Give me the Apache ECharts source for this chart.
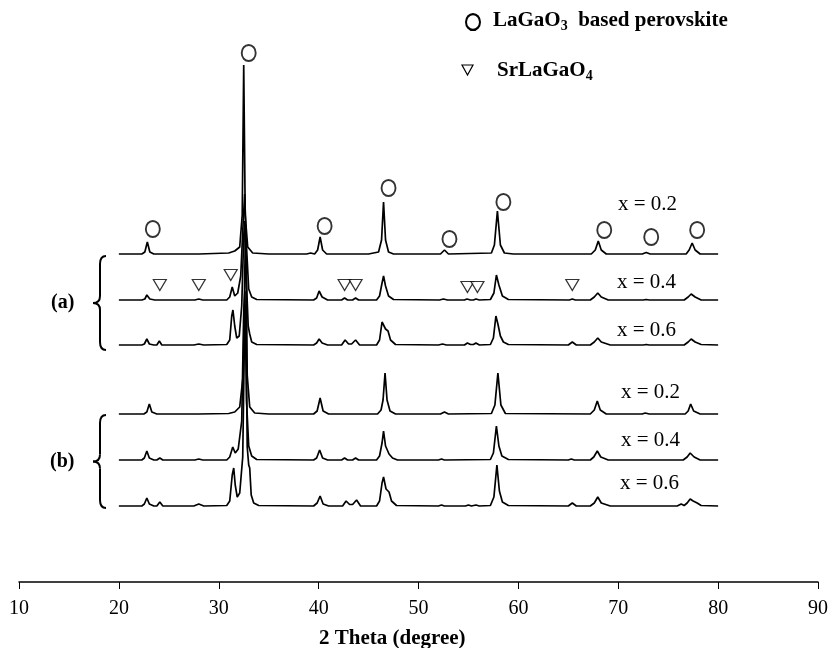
<!DOCTYPE html>
<html>
<head>
<meta charset="utf-8">
<title>XRD patterns</title>
<script src="https://cdn.jsdelivr.net/npm/echarts@6/dist/echarts.min.js"></script>
<style>
  html, body { margin: 0; padding: 0; background: #fff; }
  #chart { width: 831px; height: 648px; }
</style>
</head>
<body>
<div id="chart"></div>
<script>
// 2 theta axis
const angleMin = 10
const angleMax = 90
const angleStep = 10

// sample labels, top to bottom
const traceNames = ['a x=0.2', 'a x=0.4', 'a x=0.6', 'b x=0.2', 'b x=0.4', 'b x=0.6']
const traceLabels = ['x = 0.2', 'x = 0.4', 'x = 0.6', 'x = 0.2', 'x = 0.4', 'x = 0.6']
// vertical stacking of the patterns (intensity units)
const traceOffsets = [327, 281, 236, 167, 121, 75]

// intensity above baseline, [2theta, I]
const a02 = [[20, 1], [22.3, 1], [22.6, 3], [22.85, 13], [23.1, 3], [23.5, 1], [28, 1], [31.0, 2], [31.6, 4], [32.1, 8], [32.35, 40], [32.5, 190], [32.65, 40], [32.9, 8], [33.4, 2], [35, 1], [38.8, 1], [39.2, 2], [39.6, 1], [39.9, 5], [40.15, 18], [40.4, 5], [40.8, 1], [45, 1], [46.0, 3], [46.3, 15], [46.5, 53], [46.7, 15], [47.0, 3], [47.5, 1], [52.2, 1], [52.6, 5], [53.0, 1], [57.3, 2], [57.6, 10], [57.9, 44], [58.2, 10], [58.6, 2], [59.5, 1], [67.3, 1], [67.7, 5], [68.0, 14], [68.3, 5], [68.8, 1], [72.4, 1], [72.8, 2.5], [73.2, 1], [76.8, 1], [77.1, 5], [77.4, 12], [77.7, 5], [78.2, 1], [80, 1]]
const a04 = [[20, 1], [22.3, 1], [22.6, 2], [22.8, 6], [23.1, 2], [23.6, 1], [23.9, 1], [24.1, 3], [24.35, 1], [27.6, 1], [28.0, 2], [28.4, 1], [30.8, 1], [31.1, 4], [31.35, 14], [31.6, 5], [31.9, 8], [32.2, 25], [32.45, 80], [32.6, 107], [32.75, 60], [33.0, 12], [33.3, 4], [33.8, 1.5], [39.5, 1], [39.8, 3], [40.05, 10], [40.35, 4], [40.9, 1], [42.3, 1], [42.6, 3], [42.9, 1], [43.4, 1], [43.7, 3], [44.0, 1], [45.8, 1], [46.1, 5], [46.35, 18], [46.5, 25], [46.7, 15], [47.0, 5], [47.5, 1.5], [52.1, 1], [52.5, 2], [52.9, 1], [54.6, 1], [54.85, 2], [55.2, 1], [55.5, 1], [55.75, 2], [56.1, 1], [57.2, 1.5], [57.55, 8], [57.8, 26], [58.05, 16], [58.4, 5], [59, 1.5], [65.1, 1], [65.4, 2], [65.7, 1], [67.2, 1], [67.6, 4], [67.95, 8], [68.3, 4], [69.0, 1], [72.5, 1], [72.8, 1.5], [73.1, 1], [76.6, 1], [77.0, 4], [77.3, 7], [77.7, 4], [78.3, 1], [80, 1]]
const a06 = [[20, 1], [22.3, 1], [22.55, 2], [22.8, 7], [23.05, 2], [23.5, 1], [23.8, 1], [24.05, 5], [24.3, 1], [27.5, 1], [28.0, 2], [28.5, 1], [30.8, 1.5], [31.1, 6], [31.3, 30], [31.42, 36], [31.6, 20], [31.8, 8], [32.05, 10], [32.3, 40], [32.5, 110], [32.62, 125], [32.75, 70], [32.95, 20], [33.1, 12], [33.3, 4], [33.8, 1.5], [39.5, 1], [39.8, 3], [40.05, 7], [40.35, 3], [40.9, 1], [42.3, 1], [42.65, 6], [43.0, 2], [43.3, 2], [43.7, 6], [44.1, 1], [45.8, 1], [46.1, 6], [46.35, 24], [46.45, 26], [46.7, 17], [46.95, 15], [47.2, 6], [47.7, 1.5], [52.0, 1], [52.4, 2], [52.8, 1], [54.6, 1], [54.9, 3], [55.2, 1.5], [55.5, 1.5], [55.75, 3], [56.1, 1], [57.2, 1.5], [57.5, 8], [57.75, 30], [57.95, 22], [58.2, 10], [58.5, 4], [59.0, 1.5], [65.0, 1], [65.4, 4], [65.8, 1], [67.2, 1], [67.6, 4], [67.95, 8], [68.3, 4], [69.2, 1], [72.5, 1], [72.8, 1.5], [73.1, 1], [76.6, 1], [77.0, 4], [77.3, 7], [77.7, 4], [78.3, 1.5], [80, 1]]
const b02 = [[20, 1], [22.5, 1], [22.8, 3], [23.05, 11], [23.3, 3], [23.8, 1], [28, 1], [31.0, 1.5], [31.6, 3], [32.1, 8], [32.45, 40], [32.65, 170], [32.72, 190], [32.85, 40], [33.1, 8], [33.6, 2], [35, 1], [39.5, 1], [39.85, 4], [40.15, 17], [40.45, 4], [41, 1], [45.9, 1], [46.25, 5], [46.45, 15], [46.65, 42], [46.85, 15], [47.15, 4], [47.7, 1], [52.2, 1], [52.6, 3], [53.0, 1], [57.3, 1.5], [57.65, 10], [57.95, 42], [58.25, 10], [58.7, 1.5], [67.2, 1], [67.6, 5], [67.9, 14], [68.2, 5], [68.8, 1], [72.4, 1], [72.7, 2], [73.1, 1], [76.7, 1], [77.0, 4], [77.25, 11], [77.55, 4], [78.2, 1], [80, 1]]
const b04 = [[20, 1], [22.3, 1], [22.55, 3], [22.8, 10], [23.05, 3], [23.5, 1], [23.8, 1], [24.1, 3], [24.4, 1], [27.6, 1], [28.0, 2], [28.4, 1], [30.8, 1], [31.1, 4], [31.4, 14], [31.65, 8], [31.95, 12], [32.3, 40], [32.5, 150], [32.62, 170], [32.78, 60], [33.0, 15], [33.3, 5], [33.8, 1.5], [39.5, 1], [39.8, 3], [40.1, 11], [40.4, 3], [40.9, 1], [42.3, 1], [42.6, 3], [42.9, 1], [43.4, 1], [43.7, 3], [44.0, 1], [45.8, 1], [46.1, 5], [46.35, 18], [46.5, 30], [46.7, 15], [47.05, 7], [47.4, 3], [47.9, 1], [52.0, 1], [52.3, 2], [52.6, 1], [57.2, 1.5], [57.5, 8], [57.8, 35], [58.05, 15], [58.35, 5], [59, 1.5], [65.0, 1], [65.3, 2], [65.6, 1], [67.2, 1], [67.55, 4], [67.9, 10], [68.25, 4], [69.0, 1], [76.5, 1], [76.9, 4], [77.2, 8], [77.6, 4], [78.2, 1], [80, 1]]
const b06 = [[20, 1], [22.3, 1], [22.55, 3], [22.8, 9], [23.05, 3], [23.5, 1], [23.8, 1], [24.1, 5], [24.4, 1], [27.5, 1], [28.0, 3], [28.5, 1], [30.8, 1.5], [31.1, 6], [31.35, 32], [31.5, 39], [31.65, 22], [31.85, 10], [32.1, 14], [32.4, 50], [32.6, 190], [32.72, 200], [32.85, 60], [33.0, 42], [33.1, 39], [33.25, 12], [33.5, 4], [34, 1.5], [39.5, 1], [39.85, 4], [40.15, 11], [40.45, 3], [41, 1], [42.4, 1], [42.75, 6], [43.1, 2.5], [43.4, 2.5], [43.8, 7], [44.2, 1], [45.8, 1], [46.1, 6], [46.35, 24], [46.5, 30], [46.75, 18], [47.05, 15], [47.3, 6], [47.8, 1.5], [52.0, 1], [52.3, 2], [52.6, 1], [54.7, 1], [55.0, 2], [55.3, 1], [55.5, 1], [55.75, 2], [56.1, 1], [57.2, 1.5], [57.55, 10], [57.85, 42], [58.1, 16], [58.4, 5], [59, 1.5], [65.0, 1], [65.4, 4], [65.8, 1], [67.2, 1], [67.6, 4], [67.95, 10], [68.3, 4], [69.2, 1], [75.9, 1], [76.3, 3], [76.6, 1.5], [76.9, 4], [77.2, 8], [77.5, 6], [77.9, 4], [78.3, 1.5], [80, 1]]
const traces = [a02, a04, a06, b02, b04, b06]

// phase markers [2theta, height on the stacked scale]
const perovskiteMarks = [[23.4, 353], [33.0, 529], [40.6, 356], [47.0, 394], [53.1, 343], [58.5, 380], [68.6, 352], [73.3, 345], [77.9, 352]]
const srLaGaO4Marks = [[24.1, 297], [28.0, 297], [31.2, 307], [42.6, 297], [43.7, 297], [54.9, 295], [55.9, 295], [65.4, 297]]

const serif = '"Liberation Serif", "Times New Roman", serif'

const chart = echarts.init(document.getElementById('chart'))

const series = traces.map((pts, i) => ({
  name: traceNames[i],
  type: 'line',
  data: pts.map(p => [p[0], p[1] + traceOffsets[i]]),
  showSymbol: false,
  symbol: 'none',
  lineStyle: { color: '#000', width: 1.7 },
  silent: true
}))

series.push({
  name: 'LaGaO3 based perovskite',
  type: 'scatter',
  data: perovskiteMarks,
  symbol: 'circle',
  symbolSize: [14, 16],
  itemStyle: { color: '#fff', borderColor: '#000', borderWidth: 2 },
  z: 5
})
series.push({
  name: 'SrLaGaO4',
  type: 'scatter',
  data: srLaGaO4Marks,
  symbol: 'triangle',
  symbolRotate: 180,
  symbolSize: [13, 11],
  itemStyle: { color: '#fff', borderColor: '#000', borderWidth: 1.2 },
  z: 5
})

// x = ... labels to the right of each pattern
const labelPos = [[618, 204], [617, 282], [617, 330], [621, 392], [621, 440], [620, 483]]
const sampleText = traceLabels.map((t, i) => ({
  type: 'text',
  left: labelPos[i][0],
  top: labelPos[i][1] - 10,
  style: { text: t, font: '21px ' + serif, fill: '#000' }
}))

// curly brace made of quadratic curves and straight pieces
const braceStroke = { fill: 'none', stroke: '#000', lineWidth: 2 }
function brace(y0, y1) {
  const m = (y0 + y1) / 2
  return [
    { type: 'bezierCurve', shape: { x1: 106, y1: y0, cpx1: 100, cpy1: y0, x2: 100, y2: y0 + 8 }, style: braceStroke },
    { type: 'line', shape: { x1: 100, y1: y0 + 8, x2: 100, y2: m - 7 }, style: braceStroke },
    { type: 'bezierCurve', shape: { x1: 100, y1: m - 7, cpx1: 100, cpy1: m, x2: 93, y2: m }, style: braceStroke },
    { type: 'bezierCurve', shape: { x1: 93, y1: m, cpx1: 100, cpy1: m, x2: 100, y2: m + 7 }, style: braceStroke },
    { type: 'line', shape: { x1: 100, y1: m + 7, x2: 100, y2: y1 - 8 }, style: braceStroke },
    { type: 'bezierCurve', shape: { x1: 100, y1: y1 - 8, cpx1: 100, cpy1: y1, x2: 106, y2: y1 }, style: braceStroke }
  ]
}

chart.setOption({
  backgroundColor: '#fff',
  animation: false,
  grid: { left: 19, right: 13, top: 20, bottom: 66 },
  xAxis: {
    type: 'value',
    min: angleMin,
    max: angleMax,
    interval: angleStep,
    axisLine: { lineStyle: { color: '#000', width: 1.5 } },
    axisTick: { inside: false, length: 7, lineStyle: { color: '#000', width: 1 } },
    axisLabel: { fontFamily: serif, fontSize: 20, color: '#000', margin: 17 },
    splitLine: { show: false }
  },
  yAxis: {
    type: 'value',
    min: 0,
    max: 562,
    show: false
  },
  series: series,
  graphic: [
    {
      type: 'circle',
      x: 473,
      y: 22,
      scaleY: 1.14,
      shape: { cx: 0, cy: 0, r: 7 },
      style: { fill: '#fff', stroke: '#000', lineWidth: 2 }
    },
    {
      type: 'text',
      left: 493,
      top: 10,
      style: {
        text: '{m|LaGaO}{s|3}{m|  based perovskite}',
        rich: {
          m: { font: 'bold 21px ' + serif, fill: '#000', lineHeight: 26 },
          s: { font: 'bold 14px ' + serif, fill: '#000', lineHeight: 26, verticalAlign: 'bottom' }
        }
      }
    },
    {
      type: 'polygon',
      shape: { points: [[462, 65], [473, 65], [467.5, 75]] },
      style: { fill: '#fff', stroke: '#000', lineWidth: 1.2 }
    },
    {
      type: 'text',
      left: 497,
      top: 60,
      style: {
        text: '{m|SrLaGaO}{s|4}',
        rich: {
          m: { font: 'bold 21px ' + serif, fill: '#000', lineHeight: 26 },
          s: { font: 'bold 14px ' + serif, fill: '#000', lineHeight: 26, verticalAlign: 'bottom' }
        }
      }
    },
    ...sampleText,
    ...brace(256, 350),
    ...brace(415, 508),
    {
      type: 'text',
      left: 51,
      top: 293,
      style: { text: '(a)', font: 'bold 20px ' + serif, fill: '#000' }
    },
    {
      type: 'text',
      left: 50,
      top: 452,
      style: { text: '(b)', font: 'bold 20px ' + serif, fill: '#000' }
    },
    {
      type: 'text',
      left: 319,
      top: 628,
      style: { text: '2 Theta (degree)', font: 'bold 21px ' + serif, fill: '#000' }
    }
  ]
})
</script>
</body>
</html>
